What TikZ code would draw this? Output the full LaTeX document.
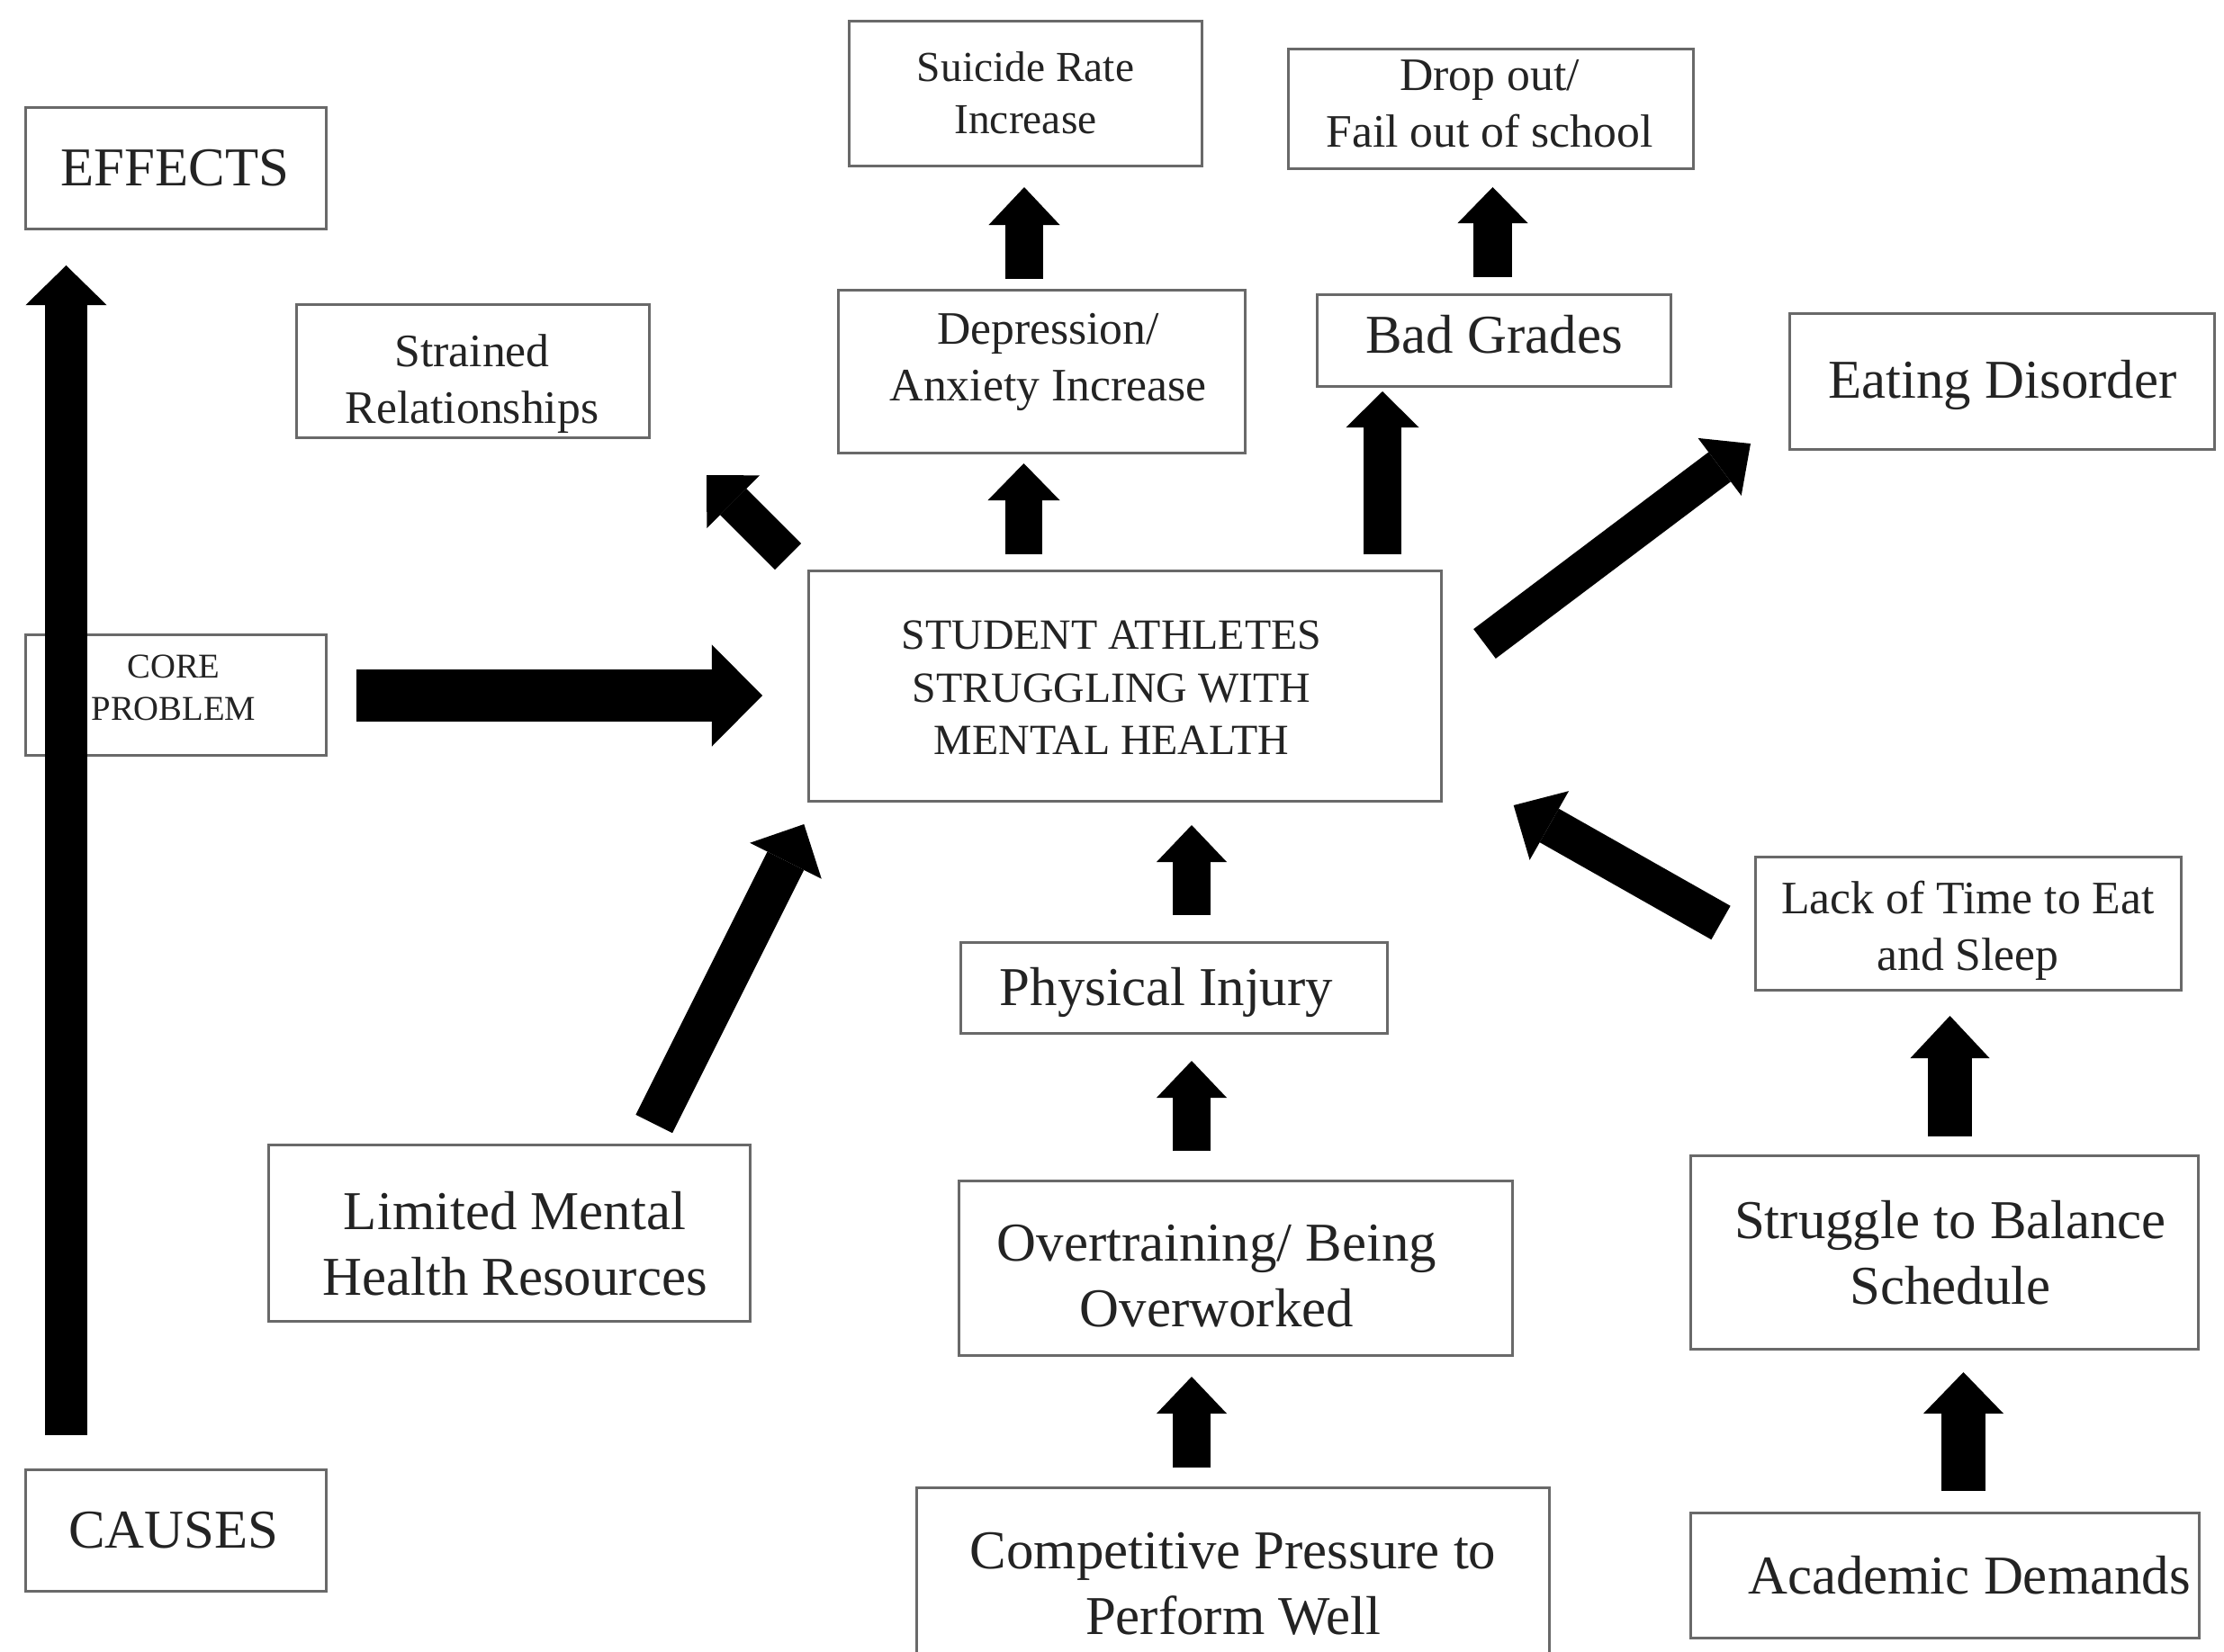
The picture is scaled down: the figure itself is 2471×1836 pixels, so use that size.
\documentclass[tikz,border=0pt]{standalone}
\usepackage{fontspec}
\setmainfont{Liberation Serif}
\usetikzlibrary{arrows.meta}
\definecolor{boxgray}{RGB}{105,105,105}
\definecolor{txtgray}{RGB}{35,35,35}
\begin{document}
\begin{tikzpicture}[x=0.01cm,y=-0.01cm,
  box/.style={draw=boxgray, line width=0.85pt, rectangle, inner sep=0pt},
  lbl/.style={text=txtgray, align=center, inner sep=0pt},
  big/.style={font=\fontsize{17.3}{20.8}\selectfont},
  mid/.style={font=\fontsize{14.7}{17.9}\selectfont},
  blk/.style n args={3}{line width=#1, draw=black, line cap=butt,
     -{Triangle[width=#2,length=#3,line width=0pt]}}
]
\useasboundingbox (0,0) rectangle (2471,1836);
\fill[white] (0,0) rectangle (2471,1836);

% ---------- boxes ----------
\node[box, minimum width=3.33cm, minimum height=1.34cm] (effects) at (195.5,187) {};
\node[lbl, big] (effectsT) at (194.5,187) {EFFECTS};

\node[box, minimum width=3.91cm, minimum height=1.47cm] (strained) at (525.5,412.5) {};
\node[lbl, mid] (strainedT) at (524.5,427) {Strained\\Relationships};

\node[box, minimum width=3.91cm, minimum height=1.60cm] (suicide) at (1139.5,104) {};
\node[lbl, font=\fontsize{13.5}{16.5}\selectfont] (suicideT) at (1139.5,103) {Suicide Rate\\Increase};

\node[box, minimum width=4.49cm, minimum height=1.32cm] (drop) at (1656.5,121) {};
\node[lbl, mid] (dropT) at (1655,115) {Drop out/\\Fail out of school};

\node[box, minimum width=4.51cm, minimum height=1.80cm] (depr) at (1157.5,413) {};
\node[lbl, mid] (deprT) at (1164.5,402) {Depression/\\Anxiety Increase};

\node[box, minimum width=3.92cm, minimum height=1.01cm] (bad) at (1660,378.5) {};
\node[lbl, big] (badT) at (1660,371.5) {Bad Grades};

\node[box, minimum width=4.71cm, minimum height=1.50cm] (eating) at (2224.5,424) {};
\node[lbl, big] (eatingT) at (2225,428) {Eating Disorder};

\node[box, minimum width=3.33cm, minimum height=1.33cm] (core) at (195.5,772.5) {};
\node[lbl, font=\fontsize{11}{13.4}\selectfont] (coreT) at (193,764.5) {CORE\\PROBLEM};

\node[box, minimum width=7.02cm, minimum height=2.55cm] (center) at (1250,762.5) {};
\node[lbl, font=\fontsize{13.6}{16.6}\selectfont] (centerT) at (1235,764.5) {STUDENT ATHLETES\\STRUGGLING WITH\\MENTAL HEALTH};

\node[box, minimum width=4.73cm, minimum height=1.00cm] (phys) at (1304.5,1098) {};
\node[lbl, big] (physT) at (1296,1103) {Physical Injury};

\node[box, minimum width=4.72cm, minimum height=1.47cm] (lack) at (2187,1026.5) {};
\node[lbl, mid] (lackT) at (2186.5,1034) {Lack of Time to Eat\\and Sleep};

\node[box, minimum width=5.34cm, minimum height=1.95cm] (limited) at (566,1370.5) {};
\node[lbl, big] (limitedT) at (572,1382) {Limited Mental\\Health Resources};

\node[box, minimum width=6.14cm, minimum height=1.93cm] (over) at (1373,1409.5) {};
\node[lbl, big] (overT) at (1352,1418) {Overtraining/ Being\\Overworked};

\node[box, minimum width=5.63cm, minimum height=2.14cm] (struggle) at (2160.5,1392) {};
\node[lbl, big] (struggleT) at (2167,1392) {Struggle to Balance\\Schedule};

\node[box, minimum width=3.33cm, minimum height=1.34cm] (causes) at (195.5,1701) {};
\node[lbl, big] (causesT) at (193,1701) {CAUSES};

\node[box, minimum width=7.02cm, minimum height=1.96cm] (comp) at (1370,1752) {};
\node[lbl, big] (compT) at (1370,1760.5) {Competitive Pressure to\\Perform Well};

\node[box, minimum width=5.64cm, minimum height=1.38cm] (acad) at (2161,1751) {};
\node[lbl, big] (acadT) at (2188,1750.5) {Academic Demands};

% ---------- arrow end points ----------
\coordinate (aS) at (73.5,1595);   \coordinate (aE) at (73.5,295);
\coordinate (bS) at (396,773);     \coordinate (bE) at (847,773);
\coordinate (cS) at (875.5,618.5); \coordinate (cE) at (785,528);
\coordinate (dS) at (1137.5,616);  \coordinate (dE) at (1137.5,515);
\coordinate (eS) at (1138,310);    \coordinate (eE) at (1138,208);
\coordinate (fS) at (1536,616);    \coordinate (fE) at (1536,435);
\coordinate (gS) at (1658.5,308);  \coordinate (gE) at (1658.5,208);
\coordinate (hS) at (1649.5,715.5);\coordinate (hE) at (1945,493);
\coordinate (iS) at (726.7,1249);  \coordinate (iE) at (893.3,916);
\coordinate (jS) at (1324,1017);   \coordinate (jE) at (1324,917);
\coordinate (kS) at (1324,1279);   \coordinate (kE) at (1324,1179);
\coordinate (lS) at (1324,1631);   \coordinate (lE) at (1324,1530);
\coordinate (mS) at (1912,1025.5); \coordinate (mE) at (1681.7,895);
\coordinate (nS) at (2166.5,1263); \coordinate (nE) at (2166.5,1129);
\coordinate (oS) at (2181.5,1657); \coordinate (oE) at (2181.5,1525);

% ---------- block arrows ----------
\draw[blk={0.46cm}{0.90cm}{0.44cm}] (aS) -- (aE);
\draw[blk={0.58cm}{1.13cm}{0.56cm}] (bS) -- (bE);
\draw[blk={0.41cm}{0.83cm}{0.42cm}] (cS) -- (cE);
\draw[blk={0.41cm}{0.80cm}{0.41cm}] (dS) -- (dE);
\draw[blk={0.42cm}{0.79cm}{0.42cm}] (eS) -- (eE);
\draw[blk={0.42cm}{0.81cm}{0.40cm}] (fS) -- (fE);
\draw[blk={0.43cm}{0.78cm}{0.40cm}] (gS) -- (gE);
\draw[blk={0.41cm}{0.80cm}{0.43cm}] (hS) -- (hE);
\draw[blk={0.455cm}{0.89cm}{0.455cm}] (iS) -- (iE);
\draw[blk={0.42cm}{0.78cm}{0.41cm}] (jS) -- (jE);
\draw[blk={0.42cm}{0.78cm}{0.41cm}] (kS) -- (kE);
\draw[blk={0.42cm}{0.78cm}{0.41cm}] (lS) -- (lE);
\draw[blk={0.43cm}{0.88cm}{0.455cm}] (mS) -- (mE);
\draw[blk={0.49cm}{0.88cm}{0.47cm}] (nS) -- (nE);
\draw[blk={0.49cm}{0.89cm}{0.46cm}] (oS) -- (oE);
\end{tikzpicture}
\end{document}
